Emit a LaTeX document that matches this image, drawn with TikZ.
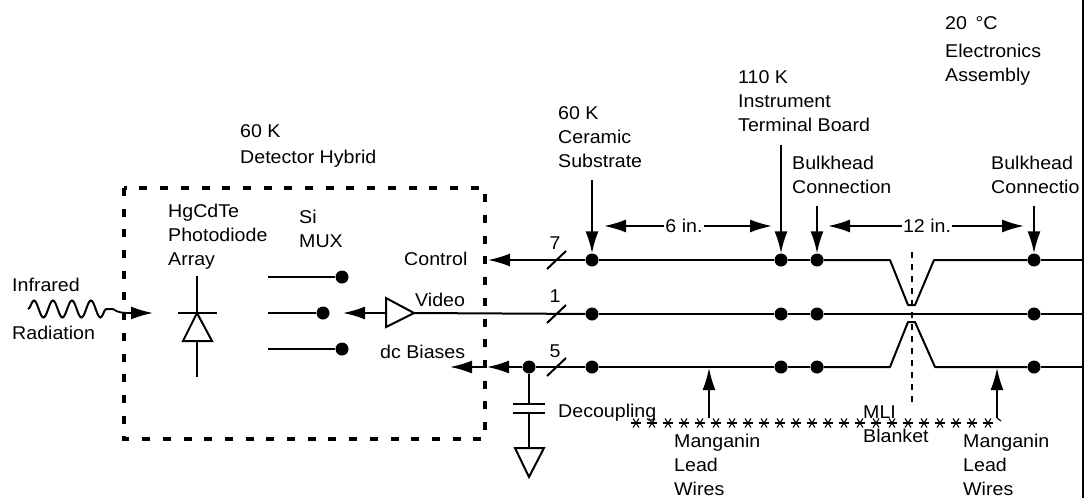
\documentclass[tikz,border=0pt]{standalone}
\usepackage{fontspec}
\setmainfont[FakeStretch=1.06]{Liberation Sans}
\usetikzlibrary{arrows.meta,calc,positioning,decorations.pathmorphing}
\tikzset{
  lab/.style={anchor=north west,align=left,inner sep=0pt,font=\fontsize{18.5}{24}\selectfont},
  tag/.style={inner sep=1pt,font=\fontsize{18.5}{24}\selectfont},
  wire/.style={line width=2pt},
  arr/.style={-{Latex[length=22pt,width=13pt]},line width=1.8pt},
  dot/.style={circle,fill=black,inner sep=0pt,minimum size=13pt},
  hybrid/.style={line width=3.4pt,dash pattern=on 8pt off 12.7pt},
  mli/.style={line width=2pt,dash pattern=on 6pt off 6pt},
  tri/.style={draw,line width=2pt,line join=miter},
  fibre/.style={line width=1.1pt}
}
\begin{document}
\begin{tikzpicture}[x=1pt,y=-1pt]
  \useasboundingbox (0,0) rectangle (1084,498);
  % temperature zones and parts
  \node[lab] (hybrid) at (240,124) {60 K\\[2pt]Detector Hybrid};
  \node[lab] (ceramic) at (558,106) {60 K\\Ceramic\\Substrate};
  \node[lab] (board) at (738,70) {110 K\\Instrument\\Terminal Board};
  \node[lab] (assy) at (945,16) {20~\,°C\\[4pt]Electronics\\Assembly};
  \node[lab] (bulka) at (792,156) {Bulkhead\\Connection};
  \node[lab] (bulkb) at (991,156) {Bulkhead\\Connectio};
  \node[lab] (ir) at (12,278) {Infrared\\[24pt]Radiation};
  \node[lab] (hgcd) at (168,204) {HgCdTe\\Photodiode\\Array};
  \node[lab] (mux) at (299,210) {Si\\MUX};
  \node[lab] (ctl) at (404,252) {Control};
  \node[lab] (vid) at (415,293) {Video};
  \node[lab] (dcb) at (380,345) {dc Biases};
  \node[lab] (dec) at (558,404) {Decoupling};
  \node[lab] (mana) at (674,434) {Manganin\\Lead\\Wires};
  \node[lab] (manb) at (963,434) {Manganin\\Lead\\Wires};
  \node[lab] (blk) at (863,406) {MLI\\Blanket};
  % detector hybrid outline and edge of the sheet
  \draw[hybrid] (124,188) rectangle (485,439);
  \draw[line width=1.2pt] (1083,0) -- (1083,498);
  % harness tie points
  \foreach \name/\xx in {1/592,2/781,3/817,4/1034}{
    \node[dot] (c\name) at (\xx,260) {};
    \node[dot] (v\name) at (\xx,314) {};
    \node[dot] (b\name) at (\xx,367) {};
  }
  \node[dot] (bd) at (529,367) {};
  \node[dot] (ma) at (342,277) {};
  \node[dot] (mb) at (323,313) {};
  \node[dot] (mc) at (342,349) {};
  \coordinate (la) at (268,277);
  \coordinate (lb) at (268,313);
  \coordinate (lc) at (268,349);
  \draw[wire] (la) -- (ma); \draw[wire] (lb) -- (mb); \draw[wire] (lc) -- (mc);
  % control line
  \coordinate (ctip) at (488,260);
  \coordinate (cend) at (1082,260);
  \draw[arr] (c1) -- (ctip);
  \draw[wire] (c1) -- (c2); \draw[wire] (c2) -- (c3);
  \draw[wire,line join=round] (c3) -- (890,260) -- (908,305) -- (915,305) -- (934,260) -- (c4);
  \draw[wire] (c4) -- (cend);
  % video line with buffer
  \coordinate (bufin) at (386,313);
  \coordinate (bufout) at (414,313);
  \coordinate (vtip) at (343,313);
  \coordinate (vend) at (1082,314);
  \draw[tri] (386,298) -- (386,327) -- (bufout) -- cycle;
  \draw[arr] (bufin) -- (vtip);
  \draw[wire] (bufout) -- (v1); \draw[wire] (v1) -- (v2); \draw[wire] (v2) -- (v3);
  \draw[wire] (v3) -- (v4); \draw[wire] (v4) -- (vend);
  % bias line
  \coordinate (btipa) at (487,367);
  \coordinate (btipb) at (450,367);
  \coordinate (bend) at (1082,367);
  \draw[arr] (bd) -- (btipa);
  \draw[arr] (btipa) -- (btipb);
  \draw[wire] (bd) -- (b1); \draw[wire] (b1) -- (b2); \draw[wire] (b2) -- (b3);
  \draw[wire,line join=round] (b3) -- (890,367) -- (908,322) -- (915,322) -- (935,367) -- (b4);
  \draw[wire] (b4) -- (bend);
  % bundle counts
  \foreach \yy/\nn in {260/7,314/1,367/5}{
    \draw[wire] (547,\yy+9) -- (566,\yy-9);
  }
  \node[tag] (nc) at (555,243) {7};
  \node[tag] (nv) at (555,296) {1};
  \node[tag] (nb) at (555,351) {5};
  % decoupling capacitor to ground
  \coordinate (cpa) at (529,404);
  \coordinate (cpb) at (529,413);
  \coordinate (gnd) at (529,448);
  \draw[wire] (bd) -- (cpa); \draw[wire] (cpb) -- (gnd);
  \draw[line width=2.4pt] (513,404) -- (545,404);
  \draw[line width=2.4pt] (513,413) -- (545,413);
  \draw[tri] (515,448) -- (544,448) -- (529,477) -- cycle;
  % photodiode
  \coordinate (da) at (197,276);
  \coordinate (db) at (197,377);
  \draw[wire] (da) -- (db);
  \draw[wire] (178,313) -- (217,313);
  \draw[tri,fill=white] (197,313) -- (183,341) -- (212,341) -- cycle;
  % incoming radiation
  \coordinate (wa) at (28,309);
  \coordinate (wb) at (113,309);
  \coordinate (wc) at (153,313);
  \draw[wire,decorate,decoration={snake,segment length=19pt,amplitude=8.5pt}] (wa) -- (wb);
  \draw[arr] (wb) .. controls (118,313) and (124,313) .. (wc);
  % leader arrows and spans
  \coordinate (pa) at (592,180); \draw[arr] (pa) -- (c1);
  \coordinate (pb) at (781,145); \draw[arr] (pb) -- (c2);
  \coordinate (pc) at (817,206); \draw[arr] (pc) -- (c3);
  \coordinate (pd) at (1034,206); \draw[arr] (pd) -- (c4);
  \node[tag] (six) at (684,226) {6 in.};
  \node[tag] (twelve) at (927,226) {12 in.};
  \coordinate (sa) at (604,226); \coordinate (sb) at (772,226);
  \coordinate (ta) at (828,226); \coordinate (tb) at (1024,226);
  \draw[arr] (six) -- (sa); \draw[arr] (six) -- (sb);
  \draw[arr] (twelve) -- (ta); \draw[arr] (twelve) -- (tb);
  % multilayer insulation
  \coordinate (ina) at (912,252); \coordinate (inb) at (912,402);
  \draw[mli] (ina) -- (inb);
  \foreach \ii in {0,...,22}{
    \coordinate (st) at (636+16*\ii,423);
    \draw[fibre] ($(st)+(-5,0)$) -- ($(st)+(5,0)$);
    \draw[fibre] ($(st)+(-3,-4.5)$) -- ($(st)+(3,4.5)$);
    \draw[fibre] ($(st)+(-3,4.5)$) -- ($(st)+(3,-4.5)$);
  }
  \coordinate (qa) at (709,418); \coordinate (qb) at (709,368);
  \coordinate (ra) at (1001,421); \coordinate (rb) at (997,418); \coordinate (rc) at (997,368);
  \draw[arr] (qa) -- (qb);
  \draw[fibre] (ra) -- (rb);
  \draw[arr] (rb) -- (rc);
\end{tikzpicture}
\end{document}
